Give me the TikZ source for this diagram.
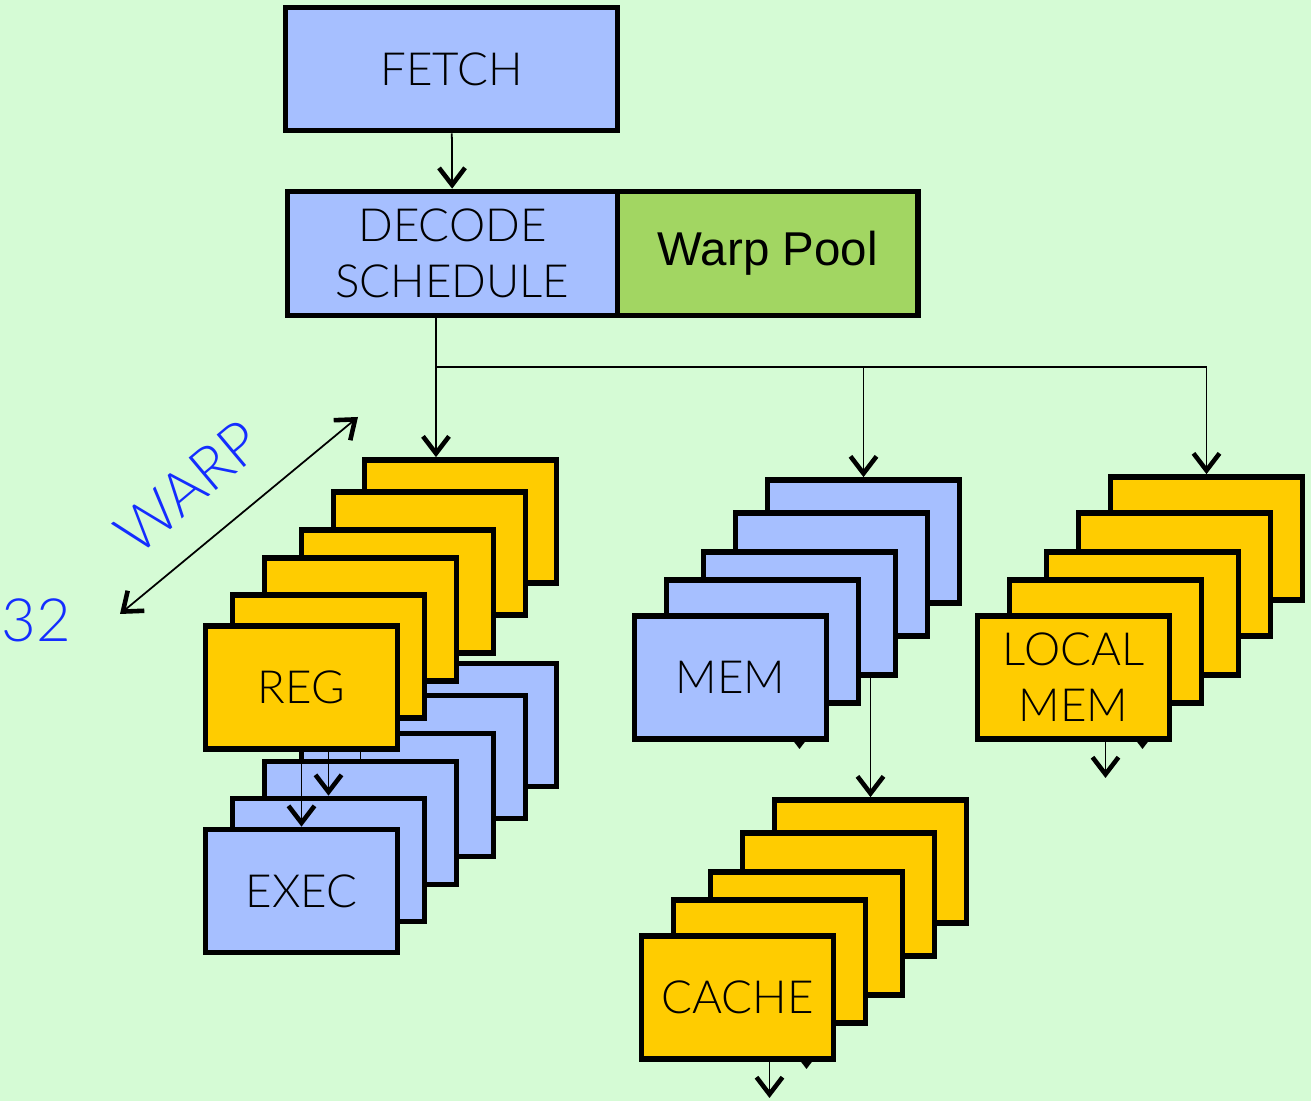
\documentclass[tikz,border=0pt]{standalone}
\usepackage{fontspec}
\newfontfamily\gillfont{Lato}[UprightFont=* Light]
\newfontfamily\arialfont{Liberation Sans}
\usetikzlibrary{arrows.meta,calc,positioning}
\definecolor{bggreen}{RGB}{213,251,213}
\definecolor{unitblue}{RGB}{166,191,255}
\definecolor{unityellow}{RGB}{255,204,0}
\definecolor{poolgreen}{RGB}{162,214,98}
\definecolor{warpblue}{RGB}{20,45,255}

\begin{document}
\begin{tikzpicture}[x=0.01cm, y=-0.01cm,
  >={Straight Barb[length=1.7mm,width=2.6mm,line width=1.3pt]},
  unit/.style={draw, line width=1.6pt, minimum width=1.92cm, minimum height=1.23cm,
    inner sep=0pt, align=center, font=\gillfont\fontsize{13}{16}\selectfont},
  bluebox/.style={unit, fill=unitblue},
  yellowbox/.style={unit, fill=unityellow},
  wire/.style={line width=0.5pt},
  link/.style={wire, ->}]
\useasboundingbox (0,0) rectangle (1311,1101);
\fill[bggreen] (0,0) rectangle (1311,1101);

% front end
\node[bluebox, minimum width=3.32cm] (fetch) at (451.5,69) {FETCH};
\node[bluebox, minimum width=3.30cm, minimum height=1.24cm] (decode) at (452.5,253.5) {DECODE\\SCHEDULE};
\node[unit, fill=poolgreen, minimum width=3.0cm, minimum height=1.24cm, anchor=west, xshift=-1.6pt,
  font=\arialfont\fontsize{13.5}{16}\selectfont] (pool) at (decode.east) {Warp Pool};
\draw[link] (fetch) -- (decode);

% EXEC (dietro) e REG (davanti)
\foreach \dx/\dy [count=\i] in {159/-166,128/-134,96/-96,59/-68,27/-31}
  \node[bluebox] (exec\i) at (301.5+\dx,891+\dy) {};
\node[bluebox] (exec6) at (301.5,891) {EXEC};
\foreach \dx/\dy [count=\i] in {159/-166,128/-134,96/-96,59/-68,27/-31}{
  \node[yellowbox] (reg\i) at (301.5+\dx,687.5+\dy) {};
  \ifnum\i=4 \draw[wire] (reg\i) -- (exec\i); \fi
  \ifnum\i=5 \draw[link] (reg\i) -- (exec\i); \fi
}
\node[yellowbox] (reg6) at (301.5,687.5) {REG};
\draw[link] (reg6) -- (exec6);

% MEM
\foreach \dx/\dy [count=\i] in {133/-136,101/-103,69/-64}
  \node[bluebox] (mem\i) at (730.5+\dx,677.5+\dy) {};
\coordinate (memtip) at (799.5,749);
\draw[link] (mem3) -- (memtip);
\node[bluebox] (mem4) at (730.5+32,677.5-36) {};
\node[bluebox] (mem5) at (730.5,677.5) {MEM};

% LOCAL MEM
\foreach \dx/\dy [count=\i] in {133/-139,101/-103,69/-64}
  \node[yellowbox] (local\i) at (1073.5+\dx,677.5+\dy) {};
\coordinate (localtip) at (1142.5,749);
\draw[link] (local3) -- (localtip);
\node[yellowbox] (local4) at (1073.5+32,677.5-36) {};
\coordinate (localout) at (1105.5,778);
\draw[link] (local4) -- (localout);
\node[yellowbox] (local5) at (1073.5,677.5) {LOCAL\\MEM};

% CACHE
\foreach \dx/\dy [count=\i] in {133/-136,101/-103,69/-64}
  \node[yellowbox] (cache\i) at (737.5+\dx,997.5+\dy) {};
\coordinate (cachetip) at (806.5,1069);
\draw[link] (cache3) -- (cachetip);
\node[yellowbox] (cache4) at (737.5+32,997.5-36) {};
\coordinate (cacheout) at (769.5,1098);
\draw[link] (cache4) -- (cacheout);
\node[yellowbox] (cache5) at (737.5,997.5) {CACHE};

% distribuzione
\coordinate (split) at (436,367);
\draw[wire] (decode.south -| split) -- (split) -- (split -| local1);
\draw[link] (split) -- (split |- reg1.north);
\draw[link] (split -| mem1) -- (mem1);
\draw[link] (split -| local1) -- (local1);
\draw[link] (mem3.south -| cache1) -- (cache1);

% warp
\coordinate (warpA) at (120,614);
\coordinate (warpB) at (358,417);
\draw[wire, <->] (warpA) -- (warpB);
\node[rotate=40, text=warpblue, font=\gillfont\fontsize{17}{19}\selectfont] (warp) at (188,487) {WARP};
\node[text=warpblue, font=\gillfont\fontsize{17}{20}\selectfont] (count) at (36,620) {32};
\end{tikzpicture}
\end{document}
